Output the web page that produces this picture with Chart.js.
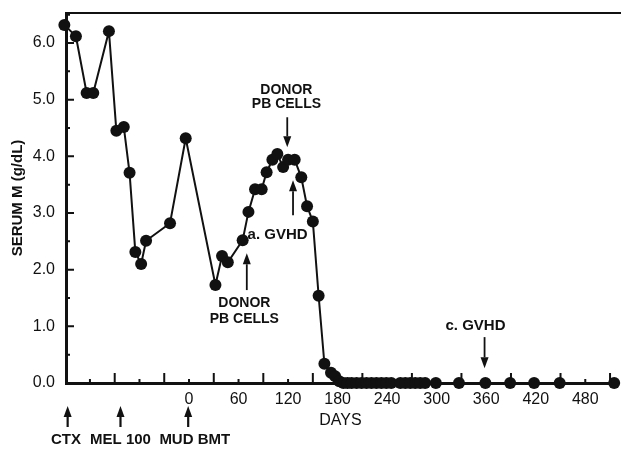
<!DOCTYPE html>
<html>
<head>
<meta charset="utf-8">
<script src="https://cdn.jsdelivr.net/npm/chart.js@4.4.0/dist/chart.umd.min.js"></script>
<style>
  body { margin: 0; background: #fff; }
  canvas { display: block; }
</style>
</head>
<body>
<canvas id="serumChart" width="621" height="450"></canvas>
<script>
// days relative to the MUD BMT (day 0) and serum M protein in g/dL
const days = [-151, -137, -124, -116, -97, -88, -79, -72, -65, -58, -52, -23, -4,
  32, 40, 47, 65, 72, 80, 88, 94, 101, 107, 114, 120, 128, 136, 143, 150, 157, 164,
  172, 177, 182, 187, 192, 197, 203, 209, 215, 221, 227, 233, 239, 245,
  256, 262, 268, 274, 280, 286, 299, 327, 359, 389, 418, 449, 515];
const serumM = [6.32, 6.12, 5.12, 5.12, 6.21, 4.45, 4.52, 3.71, 2.31, 2.10, 2.51, 2.82, 4.32,
  1.73, 2.24, 2.13, 2.52, 3.02, 3.42, 3.42, 3.72, 3.94, 4.04, 3.81, 3.94, 3.94, 3.63, 3.12, 2.85, 1.54, 0.34,
  0.18, 0.12, 0.03, 0, 0, 0, 0, 0, 0, 0, 0, 0, 0, 0,
  0, 0, 0, 0, 0, 0, 0, 0, 0, 0, 0, 0, 0];

const xTicks = [-120, -90, -60, -30, 0, 30, 60, 90, 120, 150, 180, 210, 240, 270, 300, 330, 360, 390, 420, 450, 480, 510];
const xLabels = [0, 60, 120, 180, 240, 300, 360, 420, 480];
const yTicks = [0, 0.5, 1, 1.5, 2, 2.5, 3, 3.5, 4, 4.5, 5, 5.5, 6, 6.5];
const yLabels = [0, 1, 2, 3, 4, 5, 6];

// arrows inside the plot, given in data units (day, serum M)
const notes = [
  { day: 119, tail: 4.69, tip: 4.16, lines: ['DONOR', 'PB CELLS'], textDay: 118, textY: [5.17, 4.92], size: 14, align: 'center' },
  { day: 126, tail: 2.96, tip: 3.58, lines: ['a. GVHD'], textDay: 71, textY: [2.61], size: 15, align: 'left' },
  { day: 70, tail: 1.64, tip: 2.29, lines: ['DONOR', 'PB CELLS'], textDay: 67, textY: [1.41, 1.13], size: 14, align: 'center' },
  { day: 358, tail: 0.81, tip: 0.26, lines: ['c. GVHD'], textDay: 347, textY: [1.0], size: 15, align: 'center' }
];
// treatment markers under the day axis
const treatments = [
  { day: -147, label: 'CTX', labelDay: -149 },
  { day: -83, label: 'MEL 100', labelDay: -83 },
  { day: -1, label: 'MUD BMT', labelDay: 7 }
];

const FONT = "'Liberation Sans', Arial, Helvetica, sans-serif";

function arrow(c, x, yTail, yTip, head, half) {
  const dir = yTip > yTail ? 1 : -1;
  c.beginPath();
  c.moveTo(x, yTail);
  c.lineTo(x, yTip - dir * head);
  c.stroke();
  c.beginPath();
  c.moveTo(x, yTip);
  c.lineTo(x - half, yTip - dir * head);
  c.lineTo(x + half, yTip - dir * head);
  c.closePath();
  c.fill();
}

const inkPlugin = {
  id: 'ink',
  beforeDraw(chart) {
    const c = chart.ctx;
    c.save();
    c.fillStyle = '#fff';
    c.fillRect(0, 0, chart.width, chart.height);
    c.restore();
  },
  afterDraw(chart) {
    const c = chart.ctx;
    const xs = chart.scales.x, ys = chart.scales.y;
    const area = chart.chartArea;
    c.save();
    c.strokeStyle = '#111';
    c.fillStyle = '#111';
    c.lineWidth = 2;
    c.beginPath();
    yTicks.forEach(v => {
      const y = ys.getPixelForValue(v);
      c.moveTo(area.left, y);
      c.lineTo(area.left + (v % 1 === 0 ? 8 : 4), y);
    });
    xTicks.forEach(d => {
      const x = xs.getPixelForValue(d);
      c.moveTo(x, area.bottom);
      c.lineTo(x, area.bottom - ((d / 30) % 2 !== 0 ? 10 : 4));
    });
    c.stroke();

    // top frame line
    c.beginPath();
    c.moveTo(area.left, area.top);
    c.lineTo(chart.width, area.top);
    c.stroke();

    c.lineWidth = 1.8;
    c.textBaseline = 'middle';
    notes.forEach(n => {
      const x = xs.getPixelForValue(n.day);
      arrow(c, x, ys.getPixelForValue(n.tail), ys.getPixelForValue(n.tip), 11, 4);
      c.font = 'bold ' + n.size + 'px ' + FONT;
      c.textAlign = n.align;
      n.lines.forEach((t, i) => {
        c.fillText(t, xs.getPixelForValue(n.textDay), ys.getPixelForValue(n.textY[i]));
      });
    });

    c.lineWidth = 2.2;
    c.font = 'bold 15px ' + FONT;
    c.textAlign = 'center';
    treatments.forEach(t => {
      const x = xs.getPixelForValue(t.day);
      arrow(c, x, area.bottom + 44, area.bottom + 23, 11, 4);
      c.fillText(t.label, xs.getPixelForValue(t.labelDay), area.bottom + 57);
    });
    c.restore();
  }
};

new Chart('serumChart', {
  type: 'line',
  data: {
    datasets: [{
      data: days.map((d, i) => ({ x: d, y: serumM[i] })),
      borderColor: '#111',
      borderWidth: 2,
      backgroundColor: '#111',
      pointRadius: 6,
      pointBorderWidth: 0,
      pointBackgroundColor: '#111',
      tension: 0,
      clip: false
    }]
  },
  options: {
    responsive: false,
    animation: false,
    devicePixelRatio: 1,
    layout: { padding: { top: 13, right: 0, left: 0, bottom: 0 } },
    plugins: { legend: { display: false }, tooltip: { enabled: false } },
    scales: {
      x: {
        type: 'linear',
        min: -149,
        max: 516,
        afterBuildTicks: s => { s.ticks = xTicks.map(v => ({ value: v })); },
        afterFit: s => { s.height = 67; s.paddingLeft = 0; s.paddingRight = 0; },
        grid: { display: false, drawTicks: false },
        border: { display: true, color: '#111', width: 3 },
        ticks: {
          autoSkip: false,
          maxRotation: 0,
          padding: 7,
          color: '#111',
          font: { family: FONT, size: 16 },
          callback: v => xLabels.includes(v) ? String(v) : ''
        },
        title: {
          display: true,
          text: 'DAYS',
          color: '#111',
          font: { family: FONT, size: 16 },
          padding: { top: 0, bottom: 20 }
        }
      },
      y: {
        min: 0,
        max: 6.53,
        afterBuildTicks: s => { s.ticks = yTicks.map(v => ({ value: v })); },
        afterFit: s => { s.width = 66; s.paddingTop = 0; s.paddingBottom = 0; },
        grid: { display: false, drawTicks: false },
        border: { display: true, color: '#111', width: 3 },
        ticks: {
          autoSkip: false,
          padding: 11,
          color: '#111',
          font: { family: FONT, size: 16 },
          callback: v => yLabels.includes(v) ? v.toFixed(1) : ''
        },
        title: {
          display: true,
          text: 'SERUM M (g/dL)',
          color: '#111',
          font: { family: FONT, size: 15, weight: 'bold' },
          padding: { top: 9, bottom: 0 }
        }
      }
    }
  },
  plugins: [inkPlugin]
});
</script>
</body>
</html>
